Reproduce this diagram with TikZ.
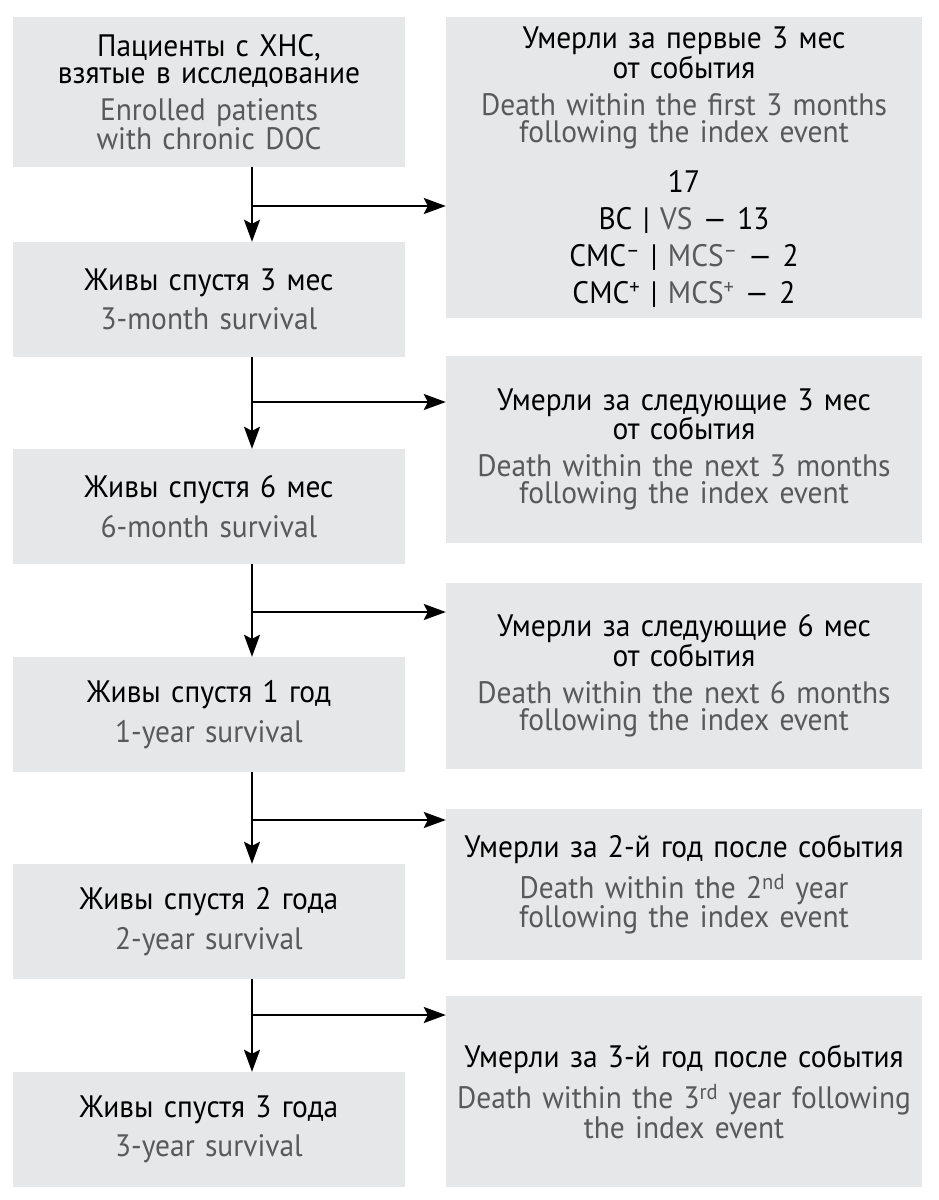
\documentclass[tikz,border=0pt]{standalone}
\usepackage{fontspec}
\setmainfont[FakeStretch=0.95]{PT Sans}
\usetikzlibrary{arrows.meta}
\definecolor{boxgray}{HTML}{E6E7E8}
\definecolor{engray}{HTML}{58595B}
\newcommand\en[1]{\textcolor{engray}{#1}}
\begin{document}
\begin{tikzpicture}[x=1pt,y=-1pt,
  box/.style={fill=boxgray, inner sep=0pt, align=center, font=\fontsize{31}{27}\selectfont},
  lbox/.style={box, minimum width=392pt, text width=390pt},
  rbox/.style={box, minimum width=476pt, text width=476pt},
  arr/.style={line width=2pt, -{Stealth[length=22pt,width=16pt,inset=4pt]}}]
\useasboundingbox (0,0) rectangle (939,1200);
% left column
\node[lbox, minimum height=150pt] (L1) at (209,92) {Пациенты с ХНС,\\ взятые в исследование\\[10pt] \en{Enrolled patients}\\ \en{with chronic DOC}};
\node[lbox, minimum height=115pt] (L2) at (209,299.5) {Живы спустя 3 мес\\[10pt] \en{3-month survival}};
\node[lbox, minimum height=115pt] (L3) at (209,506.5) {Живы спустя 6 мес\\[10pt] \en{6-month survival}};
\node[lbox, minimum height=115pt] (L4) at (209,714.5) {Живы спустя 1 год\\[10pt] \en{1-year survival}};
\node[lbox, minimum height=115pt] (L5) at (209,921.5) {Живы спустя 2 года\\[10pt] \en{2-year survival}};
\node[lbox, minimum height=115pt] (L6) at (209,1129.5) {Живы спустя 3 года\\[10pt] \en{3-year survival}};
% right column
\node[rbox, minimum height=301pt] (R1) at (684,167.5) {Умерли за первые 3 мес\\ от события\\[10pt] \en{Death within the first 3 months}\\ \en{following the index event}\\[21pt] 17\\[10pt] ВС | \en{VS} — 13\\[10pt] СМС\textsuperscript{–} | \en{MCS\textsuperscript{–}} — 2\\[10pt] СМС\textsuperscript{+} | \en{MCS\textsuperscript{+}} — 2};
\node[rbox, minimum height=187pt] (R2) at (684,449.5) {Умерли за следующие 3 мес\\ от события\\[10pt] \en{Death within the next 3 months}\\ \en{following the index event}};
\node[rbox, minimum height=186pt] (R3) at (684,676) {Умерли за следующие 6 мес\\ от события\\[10pt] \en{Death within the next 6 months}\\ \en{following the index event}};
\node[rbox, minimum height=151pt] (R4) at (684,884.5) {Умерли за 2-й год после события\\[10pt] \en{Death within the 2\textsuperscript{nd} year}\\ \en{following the index event}};
\node[rbox, minimum height=191pt] (R5) at (684,1091.5) {Умерли за 3-й год после события\\[10pt] \en{Death within the 3\textsuperscript{rd} year following}\\ \en{the index event}};
% connectors
\coordinate (vx) at (252,0);
\coordinate (b1) at (252,206);
\coordinate (b2) at (252,402);
\coordinate (b3) at (252,612);
\coordinate (b4) at (252,820);
\coordinate (b5) at (252,1015);
\draw[arr] (L1.south -| vx) -- (L2.north -| vx);
\draw[arr] (L2.south -| vx) -- (L3.north -| vx);
\draw[arr] (L3.south -| vx) -- (L4.north -| vx);
\draw[arr] (L4.south -| vx) -- (L5.north -| vx);
\draw[arr] (L5.south -| vx) -- (L6.north -| vx);
\draw[arr] (b1) -- (b1 -| R1.west);
\draw[arr] (b2) -- (b2 -| R2.west);
\draw[arr] (b3) -- (b3 -| R3.west);
\draw[arr] (b4) -- (b4 -| R4.west);
\draw[arr] (b5) -- (b5 -| R5.west);
\end{tikzpicture}
\end{document}
